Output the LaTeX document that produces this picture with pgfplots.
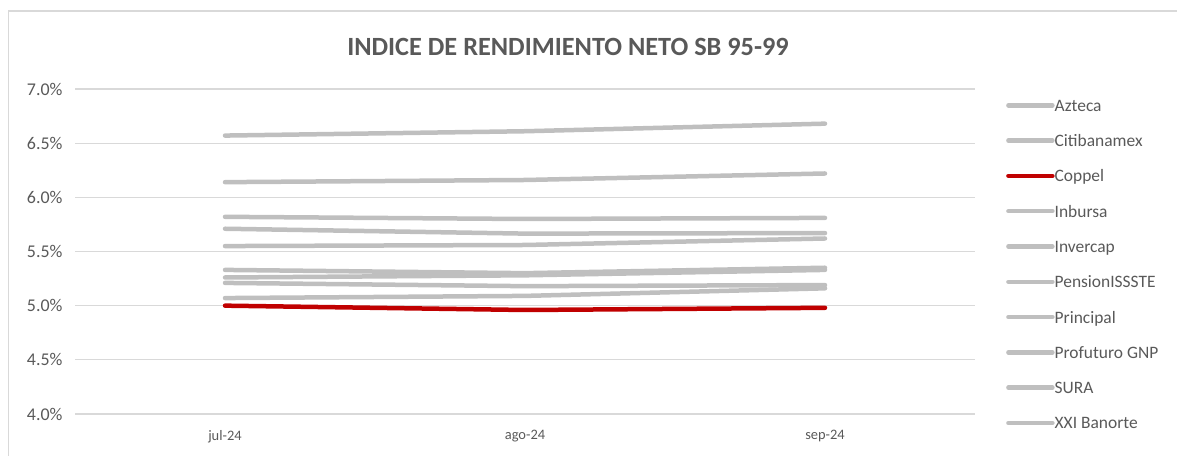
\documentclass[border=0pt]{standalone}
\usepackage{pgfplots}
\pgfplotsset{compat=1.18}
\usepackage{fontspec}
\setmainfont{Carlito}
\definecolor{txt}{HTML}{595959}
\definecolor{gridc}{HTML}{D9D9D9}
\definecolor{lgray}{HTML}{BFBFBF}
\definecolor{cred}{HTML}{C00000}
\begin{document}
\begin{tikzpicture}[x=1bp,y=1bp]
\path[use as bounding box] (0,0) rectangle (1177,456);
\draw[gridc, line width=1.5bp] (8.5,-10) -- (8.5,445) -- (1200,445);
\node[font=\fontsize{26.4}{30}\selectfont\bfseries, text=txt] at (568,409) {INDICE DE RENDIMIENTO NETO SB 95-99};
\begin{axis}[
  at={(75bp,42bp)}, anchor=south west,
  scale only axis, width=900bp, height=325bp,
  xmin=-0.5, xmax=2.5, ymin=4, ymax=7,
  xtick={0,1,2}, xticklabels={jul-24,ago-24,sep-24},
  ytick={4,4.5,5,5.5,6,6.5,7},
  yticklabels={4.0\%,4.5\%,5.0\%,5.5\%,6.0\%,6.5\%,7.0\%},
  axis line style={draw=none},
  major tick length=0pt, tick style={draw=none},
  xmajorgrids=false, ymajorgrids=true,
  major grid style={draw=gridc, line width=1.3bp},
  yticklabel style={font=\fontsize{18}{20}\selectfont, text=txt, xshift=-9bp},
  xticklabel style={font=\fontsize{14.5}{17}\selectfont, text=txt, yshift=-13bp},
  clip=false,
  legend cell align=left,
  legend style={at={(1.0344,0.969)}, anchor=north west, draw=none, fill=none,
    inner sep=0pt, row sep=19.3bp,
    font=\fontsize{17.5}{20}\selectfont, text=txt,
    nodes={inner sep=0pt, text height=12bp, text depth=4bp, xshift=3bp}},
  legend image code/.code={\draw[#1] (0bp,2bp) -- (44bp,2bp);},
  every axis plot/.append style={line width=4.5bp, line cap=round, line join=round},
]
\addplot[lgray] coordinates {(0,6.57) (1,6.61) (2,6.68)};
\addlegendentry{Azteca}
\addplot[lgray] coordinates {(0,6.14) (1,6.16) (2,6.22)};
\addlegendentry{Citibanamex}
\addplot[cred] coordinates {(0,5.00) (1,4.96) (2,4.98)};
\addlegendentry{Coppel}
\addplot[lgray] coordinates {(0,5.82) (1,5.80) (2,5.81)};
\addlegendentry{Inbursa}
\addplot[lgray] coordinates {(0,5.71) (1,5.665) (2,5.67)};
\addlegendentry{Invercap}
\addplot[lgray] coordinates {(0,5.55) (1,5.56) (2,5.62)};
\addlegendentry{PensionISSSTE}
\addplot[lgray] coordinates {(0,5.33) (1,5.30) (2,5.35)};
\addlegendentry{Principal}
\addplot[lgray] coordinates {(0,5.26) (1,5.28) (2,5.33)};
\addlegendentry{Profuturo GNP}
\addplot[lgray] coordinates {(0,5.21) (1,5.18) (2,5.19)};
\addlegendentry{SURA}
\addplot[lgray] coordinates {(0,5.07) (1,5.09) (2,5.16)};
\addlegendentry{XXI Banorte}
\end{axis}
\end{tikzpicture}
\end{document}
